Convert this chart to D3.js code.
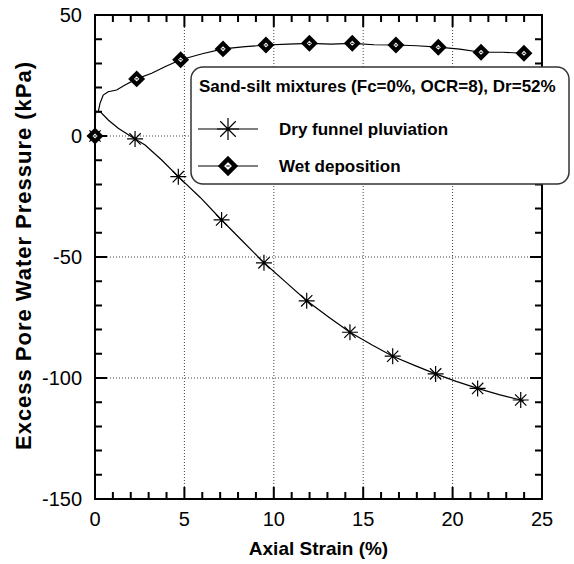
<!DOCTYPE html>
<html>
<head>
<meta charset="utf-8">
<script src="https://cdn.jsdelivr.net/npm/d3@7"></script>
<style>
  body { margin: 0; background: #fff; }
  svg text { font-family: Arial, "Liberation Sans", sans-serif; }
</style>
</head>
<body>
<div id="chart"></div>
<script>
// Dry funnel pluviation - line trace (strain %, pressure kPa)
const dryStrain   = [0, 0.03, 0.3, 0.74, 1.3, 2.24, 2.8, 3.73, 4.66, 5.9, 7.08, 8.3, 9.45, 10.7, 11.84, 13.1, 14.26, 15.5, 16.65, 17.9, 19.05, 20.2, 21.4, 22.6, 23.81, 24.0];
const dryPressure = [0, 10.2, 10.0, 6.6, 3.2, -1.2, -3.7, -9.9, -16.8, -25.5, -34.7, -43.8, -52.4, -60.6, -68.1, -75.0, -81.1, -86.4, -91.0, -94.9, -98.3, -101.4, -104.3, -106.9, -109.1, -109.5];
// Dry funnel pluviation - marker points
const dryMarkStrain   = [0, 2.24, 4.66, 7.08, 9.45, 11.84, 14.26, 16.65, 19.05, 21.4, 23.81];
const dryMarkPressure = [0, -1.2, -16.8, -34.7, -52.4, -68.1, -81.1, -91.0, -98.3, -104.3, -109.1];

// Wet deposition - line trace
const wetStrain   = [0, 0.03, 0.18, 0.28, 0.46, 0.74, 1.21, 1.68, 2.33, 3.17, 3.91, 4.79, 6.0, 7.16, 8.4, 9.56, 10.8, 12.0, 13.2, 14.39, 15.6, 16.83, 18.0, 19.2, 20.4, 21.59, 22.8, 23.99];
const wetPressure = [0, 10.2, 10.0, 13.5, 16.9, 18.3, 19.0, 21.1, 23.6, 25.9, 28.6, 31.5, 34.0, 36.0, 36.9, 37.6, 38.0, 38.3, 38.0, 38.3, 37.7, 37.6, 37.3, 36.7, 35.9, 34.6, 34.6, 34.2];
// Wet deposition - marker points
const wetMarkStrain   = [0, 2.33, 4.79, 7.16, 9.56, 11.99, 14.39, 16.83, 19.2, 21.59, 23.99];
const wetMarkPressure = [0, 23.6, 31.5, 36.0, 37.6, 38.3, 38.3, 37.6, 36.7, 34.6, 34.2];

const xTicks = [0, 5, 10, 15, 20, 25];
const yTicks = [50, 0, -50, -100, -150];
const xMinor = d3.range(0, 26, 1);
const yMinor = d3.range(-150, 51, 10);
const xGrid = [5, 10, 15, 20];
const yGrid = [0, -50, -100];

const legendTitle = 'Sand-silt mixtures (Fc=0%, OCR=8), Dr=52%';
const seriesNames = ['Dry funnel pluviation', 'Wet deposition'];

const width = 574, height = 564;
const margin = { left: 95, right: 32, top: 15, bottom: 65 };

const svg = d3.select('#chart').append('svg')
    .attr('width', width)
    .attr('height', height);

const x = d3.scaleLinear().domain([0, 25]).range([margin.left, width - margin.right]);
const y = d3.scaleLinear().domain([-150, 50]).range([height - margin.bottom, margin.top]);

const plotL = x(0), plotR = x(25), plotB = y(-150), plotT = y(50);

// dotted grid
const grid = svg.append('g');
xGrid.forEach(v => {
    grid.append('line')
        .attr('x1', x(v)).attr('x2', x(v)).attr('y1', plotT).attr('y2', plotB)
        .attr('stroke', '#444').attr('stroke-dasharray', '1,2');
});
yGrid.forEach(v => {
    grid.append('line')
        .attr('x1', plotL).attr('x2', plotR).attr('y1', y(v)).attr('y2', y(v))
        .attr('stroke', '#444').attr('stroke-dasharray', '1,2');
});

// frame
svg.append('rect')
    .attr('x', plotL).attr('y', plotT)
    .attr('width', plotR - plotL).attr('height', plotB - plotT)
    .attr('fill', 'none')
    .attr('stroke', '#000')
    .attr('stroke-width', 2);

// inward ticks on all four sides, one path
let tickPath = '';
xMinor.forEach(v => {
    const len = v % 5 === 0 ? 12 : 7;
    tickPath += `M${x(v)},${plotB}V${plotB - len}M${x(v)},${plotT}V${plotT + len}`;
});
yMinor.forEach(v => {
    const len = v % 50 === 0 ? 12 : 7;
    tickPath += `M${plotL},${y(v)}H${plotL + len}M${plotR},${y(v)}H${plotR - len}`;
});
svg.append('path')
    .attr('d', tickPath)
    .attr('fill', 'none')
    .attr('stroke', '#000')
    .attr('stroke-width', 2);

// tick labels
svg.append('g').selectAll('text').data(xTicks).join('text')
    .attr('x', d => x(d))
    .attr('y', plotB + 27)
    .attr('text-anchor', 'middle')
    .attr('font-size', 20)
    .text(d => d);
svg.append('g').selectAll('text').data(yTicks).join('text')
    .attr('x', plotL - 13)
    .attr('y', d => y(d))
    .attr('dy', '0.36em')
    .attr('text-anchor', 'end')
    .attr('font-size', 20)
    .text(d => d);

// axis titles
svg.append('text')
    .attr('x', (plotL + plotR) / 2)
    .attr('y', plotB + 56)
    .attr('text-anchor', 'middle')
    .attr('font-size', 19)
    .attr('font-weight', 'bold')
    .text('Axial Strain (%)');
svg.append('text')
    .attr('transform', `translate(23, 256) rotate(-90)`)
    .attr('dy', '0.35em')
    .attr('text-anchor', 'middle')
    .attr('font-size', 22)
    .attr('font-weight', 'bold')
    .attr('textLength', 388)
    .attr('lengthAdjust', 'spacing')
    .text('Excess Pore Water Pressure (kPa)');

// marker shapes
function drawStar(g, cx, cy, r) {
    const d = r * Math.SQRT1_2;
    g.append('path')
        .attr('d', `M${cx - r},${cy}H${cx + r}M${cx},${cy - r}V${cy + r}` +
                   `M${cx - d},${cy - d}L${cx + d},${cy + d}M${cx - d},${cy + d}L${cx + d},${cy - d}`)
        .attr('stroke', '#000')
        .attr('stroke-width', 1.2)
        .attr('fill', 'none');
}
function drawDiamond(g, cx, cy, r, sw) {
    g.append('path')
        .attr('d', `M${cx},${cy - r}L${cx + r},${cy}L${cx},${cy + r}L${cx - r},${cy}Z`)
        .attr('fill', '#fff')
        .attr('stroke', '#000')
        .attr('stroke-width', sw)
        .attr('stroke-linejoin', 'miter');
    g.append('line')
        .attr('x1', cx - r * 0.25).attr('x2', cx + r * 0.25)
        .attr('y1', cy).attr('y2', cy)
        .attr('stroke', '#000')
        .attr('stroke-width', 1);
}

const line = d3.line().x(d => x(d[0])).y(d => y(d[1]));
const dryLine = d3.zip(dryStrain, dryPressure);
const wetLine = d3.zip(wetStrain, wetPressure);

const plot = svg.append('g');
plot.append('path').datum(dryLine)
    .attr('d', line)
    .attr('fill', 'none')
    .attr('stroke', '#000')
    .attr('stroke-width', 1.2);
plot.append('path').datum(wetLine)
    .attr('d', line)
    .attr('fill', 'none')
    .attr('stroke', '#000')
    .attr('stroke-width', 1.2);

d3.zip(dryMarkStrain, dryMarkPressure).forEach(p => drawStar(plot, x(p[0]), y(p[1]), 8));
d3.zip(wetMarkStrain, wetMarkPressure).forEach(p => drawDiamond(plot, x(p[0]), y(p[1]), 5.5, 4.2));

// legend
const lg = svg.append('g');
lg.append('rect')
    .attr('x', 191).attr('y', 67)
    .attr('width', 378).attr('height', 117)
    .attr('rx', 12).attr('ry', 12)
    .attr('fill', '#fff')
    .attr('stroke', '#333')
    .attr('stroke-width', 1.5);
lg.append('text')
    .attr('x', 199).attr('y', 92)
    .attr('font-size', 17)
    .attr('font-weight', 'bold')
    .text(legendTitle);

const rowY = [129, 166];
rowY.forEach((ry, i) => {
    lg.append('line')
        .attr('x1', 198).attr('x2', 258)
        .attr('y1', ry).attr('y2', ry)
        .attr('stroke', '#000')
        .attr('stroke-width', 1.2);
    if (i === 0) drawStar(lg, 228, ry, 11);
    else drawDiamond(lg, 228, ry, 7, 4.5);
    lg.append('text')
        .attr('x', 279).attr('y', ry)
        .attr('dy', '0.35em')
        .attr('font-size', 17)
        .attr('font-weight', 'bold')
        .text(seriesNames[i]);
});
</script>
</body>
</html>
